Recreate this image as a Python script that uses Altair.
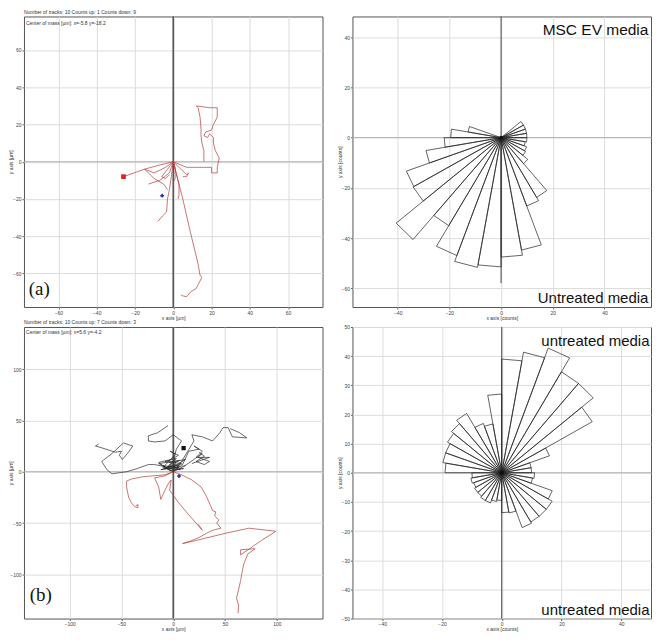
import math
import altair as alt
import pandas as pd

W = 299
H_TOP, H_BOT = 291, 292
FONT = "Liberation Sans"

# ---------------- (a) tracks, MSC EV media (all end below: red) ----------------
track_a1 = [(0, 0), (7, -3), (16, -3), (20, -3), (20, -6), (23, -6), (23, -3), (24, 2), (22, 6), (21, 10),
            (21, 13), (19, 15), (18, 13), (16, 14), (17, 16), (20, 17), (21, 20), (23, 24), (23, 29),
            (19, 29), (12, 30), (13, 29), (14, 24), (14.5, 18), (14.5, 14), (15, 10), (16, 6), (16, 0)]
track_a2 = [(0, 0), (5, -20), (9, -38), (13, -55), (14, -61), (15, -62), (13, -66), (12, -68), (9, -70),
            (7, -72.5), (5, -72), (4, -71.5)]
track_a3 = [(0, 0), (-8, -2), (-15, -4), (-26, -8)]
track_a4 = [(0, 0), (-4, -3), (-10, -6), (-15, -4), (-10, -9), (-5, -12), (-3, -15)]
track_a5 = [(0, 0), (-2, -6), (-7, -10), (-13, -12)]
track_a6 = [(0, 0), (-1, -8), (-2, -15), (-3, -20), (-3.5, -27), (-5.5, -29), (-8, -32)]
track_a7 = [(0, 0), (2, -8), (3, -12), (3, -18), (2.5, -20)]
track_a8 = [(0, 0), (4, -4), (7, -7), (8, -6), (7, -8), (5, -8)]
track_a9 = [(0, 0), (-3, -4), (-6, -8), (-4, -9), (-2, -7)]
track_a10 = [(0, 0), (1, -3), (1, -9), (0, -11)]
tracks_a = [track_a1, track_a2, track_a3, track_a4, track_a5, track_a6, track_a7, track_a8, track_a9, track_a10]
end_a = (-26, -8)
com_a = (-5.8, -18.2)

# ---------------- (b) tracks, untreated media ----------------
track_b1 = [(0, 2), (-8, 5), (-18, 7), (-24, 7), (-35, 3), (-45, 0), (-59, -2), (-64, 2), (-69, 10), (-60, 17),
            (-48, 28), (-39, 25), (-44, 18), (-49, 12), (-52, 16), (-50, 20), (-56, 19), (-62, 21), (-68, 23),
            (-75, 25), (-72, 27)]
track_b2 = [(0, 0), (2, 8), (1, 14), (3, 22), (8, 30), (0, 36), (-8, 30), (-18, 29), (-24, 30), (-24, 35),
            (-15, 38), (-5, 45)]
track_b3 = [(0, 0), (8, 10), (14, 20), (20, 30), (18, 36), (28, 34), (38, 30), (45, 38), (48, 43), (53, 43),
            (57, 34), (71, 33), (64, 38), (55, 42)]
track_b4 = [(0, 0), (10, 5), (20, 12), (28, 18), (24, 14), (35, 10), (30, 7), (22, 10), (30, 15), (25, 19)]
track_b5 = [(0, 0), (-10, 6), (5, 4), (-12, 2), (8, 8), (-8, 10), (3, 13), (-5, 5), (10, 3), (-3, 1),
            (-14, 8), (6, 11), (-9, 3), (12, 6)]
track_b6 = [(0, 0), (6, 5), (-4, 9), (12, 12), (2, 6), (-7, 4), (9, 7), (15, 20), (25, 22), (20, 25), (28, 20),
            (22, 14), (35, 14), (18, 8)]
track_b7 = [(0, 0), (-6, 3), (-14, 9), (-2, 12), (5, 16), (-3, 20), (2, 17), (-10, 4), (7, 2), (-4, 7)]
track_b8 = [(0, 0), (-8, -3), (-20, -4), (-30, -5), (-40, -7), (-45, -9), (-45, -15), (-43, -25), (-40, -31),
            (-37, -34), (-34, -35), (-34, -32), (-36, -33)]
track_b9 = [(0, 0), (-8, -4), (-18, -6), (-14, -15), (-12, -27), (-8, -18), (-5, -12), (-2, -8), (-3.5, -18),
            (5, -30), (15, -42), (28, -57), (24, -51)]
track_b10 = [(0, 0), (8, -3), (18, -8), (27, -15), (32, -24), (36, -33), (38, -38), (41, -39), (40, -43),
             (44, -47), (42, -50), (46, -55), (38, -57), (32, -60), (25, -64), (18, -67), (9, -70), (30, -65),
             (50, -60), (73, -55), (99, -58), (85, -67), (65, -81), (65, -76), (79, -75), (72, -80), (68, -90),
             (66, -100), (65, -106), (63, -115), (61, -123), (63, -130), (62.5, -138)]
tracks_b = [track_b1, track_b2, track_b3, track_b4, track_b5, track_b6, track_b7, track_b8, track_b9, track_b10]
dirs_b = ["up"] * 7 + ["down"] * 3
end_b = (10, 23)
com_b = (5.6, -4.2)

# ---------------- rose plots: 10-degree bins (bin centre angle, count) ----------------
rose_tr_angle = [35, 25, 15, 5, -5, -15, -25, -35, -45, -55, -65, -75, -85, -95, -105, -115, -125, -135,
                 -145, -155, -165, -175, 175, 165]
rose_tr_count = [10, 10, 10, 10, 10, 9.5, 10.5, 11, 13.5, 27.5, 29, 45.5, 47.6, 51.5, 52.5, 50, 40.5, 53,
                 39.3, 39, 29.5, 22, 19.5, 13]
rose_br_angle = [85, 75, 65, 55, 45, 35, 25, 15, 5, -5, -15, -25, -35, -45, -55, -65, -75, -85, -95, -105,
                 -115, -125, -135, -145, -155, -165, -175, 175, 165, 155, 145, 135, 125, 115, 105, 95]
rose_br_count = [39, 42, 45.5, 40, 40, 35, 17, 10, 10, 11, 10.5, 18, 19.5, 19.5, 19.5, 20, 14, 13.7, 9.5, 10,
                 11, 11, 10.5, 10.5, 10, 10.5, 10, 19, 20, 20, 21, 22, 23.5, 18, 17, 27]
BIN = 10


def tracks_df(tracks, dirs):
    rows = []
    for t, (pts, d) in enumerate(zip(tracks, dirs)):
        for i, (x, y) in enumerate(pts):
            rows.append({"track": t, "i": i, "x": x, "y": y, "dir": d})
    return pd.DataFrame(rows)


def rose_df(angles, counts):
    rows = []
    for b, (a, c) in enumerate(zip(angles, counts)):
        verts = [(0.0, 0.0),
                 (c * math.cos(math.radians(a - BIN / 2)), c * math.sin(math.radians(a - BIN / 2))),
                 (c * math.cos(math.radians(a + BIN / 2)), c * math.sin(math.radians(a + BIN / 2))),
                 (0.0, 0.0)]
        for i, (x, y) in enumerate(verts):
            rows.append({"bin": b, "i": i, "x": x, "y": y})
    return pd.DataFrame(rows)


def panel(xdom, ydom, xvals, yvals, xtitle, ytitle, data_layers, height, vrule_y=None, vwidth=1.6,
          vcolor="#555"):
    xs = alt.Scale(domain=xdom, nice=False, zero=False)
    ys = alt.Scale(domain=ydom, nice=False, zero=False)
    xa = alt.Axis(values=xvals, title=xtitle)
    ya = alt.Axis(values=yvals, title=ytitle, titleX=-10, titleY=height / 2, titleAlign="center",
                  titleBaseline="bottom", titleAngle=270)
    X = lambda f="x": alt.X(f"{f}:Q", scale=xs, axis=xa)
    Y = lambda f="y": alt.Y(f"{f}:Q", scale=ys, axis=ya)
    hline = alt.Chart(pd.DataFrame({"y": [0]})).mark_rule(color="#b0b0b0", strokeWidth=1).encode(y=Y())
    if vrule_y is None:
        vline = alt.Chart(pd.DataFrame({"x": [0]})).mark_rule(color=vcolor, strokeWidth=vwidth).encode(x=X())
    else:
        vline = alt.Chart(pd.DataFrame({"x": [0], "y": [vrule_y[0]], "y2": [vrule_y[1]]})).mark_rule(
            color=vcolor, strokeWidth=vwidth).encode(x=X(), y=Y(), y2="y2:Q")
    layers = [hline, vline] + [f(X, Y) for f in data_layers]
    return alt.layer(*layers).properties(width=W, height=height)


def line_layer(df, color_enc=None, color="#b23b3b", detail="track", width=0.7):
    def f(X, Y):
        enc = dict(x=X(), y=Y(), detail=f"{detail}:N", order="i:Q")
        if color_enc is not None:
            enc["color"] = color_enc
            return alt.Chart(df).mark_line(strokeWidth=width).encode(**enc)
        return alt.Chart(df).mark_line(strokeWidth=width, color=color).encode(**enc)
    return f


def point_layer(x, y, shape, color, size, filled=True):
    def f(X, Y):
        return alt.Chart(pd.DataFrame({"x": [x], "y": [y]})).mark_point(
            shape=shape, color=color, size=size, filled=filled, opacity=1, strokeWidth=1.2).encode(x=X(), y=Y())
    return f


def text_layer(x, y, txt, size, align="left", font=FONT, color="#111", baseline="alphabetic"):
    def f(X, Y):
        return alt.Chart(pd.DataFrame({"x": [x], "y": [y], "t": [txt]})).mark_text(
            align=align, baseline=baseline, fontSize=size, font=font, color=color).encode(
            x=X(), y=Y(), text="t:N")
    return f


def head(txt):
    return alt.TitleParams(txt, fontSize=5, anchor="start", frame="group", offset=1, font=FONT,
                           fontWeight="normal", color="#333")


dir_color = alt.Color("dir:N", scale=alt.Scale(domain=["up", "down"], range=["#2a2a2a", "#b23b3b"]), legend=None)

df_a = tracks_df(tracks_a, ["down"] * len(tracks_a))
df_b = tracks_df(tracks_b, dirs_b)
df_tr = rose_df(rose_tr_angle, rose_tr_count)
df_br = rose_df(rose_br_angle, rose_br_count)

tl = panel([-78, 78], [-78, 78], [-60, -40, -20, 0, 20, 40, 60], [-60, -40, -20, 0, 20, 40, 60],
           "x axis [µm]", "y axis [µm]",
           [line_layer(df_a, color_enc=dir_color),
            point_layer(end_a[0], end_a[1], "square", "#d22", 22),
            point_layer(com_a[0], com_a[1], "cross", "#22c", 14),
            text_layer(-77, 73.5, "Center of mass [µm]: x=-5.8 y=-18.2", 5, color="#333"),
            text_layer(-75.5, -71.5, "(a)", 19, font="Liberation Serif")],
           H_TOP).properties(title=head("Number of tracks: 10  Counts up: 1  Counts down: 9"))

tr = panel([-57.5, 58], [-67.5, 48.3], [-40, -20, 0, 20, 40], [-60, -40, -20, 0, 20, 40],
           "x axis [counts]", "y axis [counts]",
           [line_layer(df_tr, color="#222", detail="bin", width=0.7),
            point_layer(0, 0, "circle", "#111", 14),
            text_layer(57, 41, "MSC EV media", 15.5, align="right"),
            text_layer(57, -66, "Untreated media", 15, align="right")],
           H_TOP, vrule_y=(48.3, -58), vwidth=1, vcolor="#444")

bl = panel([-144, 144], [-143, 141], [-100, -50, 0, 50, 100], [-100, -50, 0, 50, 100],
           "x axis [µm]", "y axis [µm]",
           [line_layer(df_b, color_enc=dir_color),
            point_layer(end_b[0], end_b[1], "square", "#111", 18),
            point_layer(com_b[0], com_b[1], "cross", "#22c", 14),
            text_layer(-142, 134, "Center of mass [µm]: x=5.6 y=-4.2", 5, color="#333"),
            text_layer(-138.5, -126, "(b)", 19, font="Liberation Serif")],
           H_BOT).properties(title=head("Number of tracks: 10  Counts up: 7  Counts down: 3"))

br = panel([-50, 50], [-50, 50], [-40, -20, 0, 20, 40], [-50, -40, -30, -20, -10, 0, 10, 20, 30, 40, 50],
           "x axis [counts]", "y axis [counts]",
           [line_layer(df_br, color="#222", detail="bin", width=0.7),
            point_layer(0, 0, "circle", "#111", 22),
            text_layer(49.5, 43.6, "untreated media", 15, align="right"),
            text_layer(49.5, -48.8, "untreated media", 15, align="right")],
           H_BOT, vwidth=1, vcolor="#444")

chart = alt.concat(
    tl, tr, bl, br, columns=2, spacing={"row": 20, "column": 30}, bounds="flush",
).properties(padding=0).configure_view(stroke="#555", strokeWidth=1).configure_axis(
    labelFontSize=5, titleFontSize=5, labelFont=FONT, titleFont=FONT, titleFontWeight="normal",
    labelColor="#444", titleColor="#333", gridColor="#dcdcdc", gridWidth=1, domain=False,
    tickSize=2, tickColor="#666", labelPadding=1, titlePadding=0, labelFlush=False
)

chart.save("out.html", embed_options={"renderer": "svg", "actions": False})
